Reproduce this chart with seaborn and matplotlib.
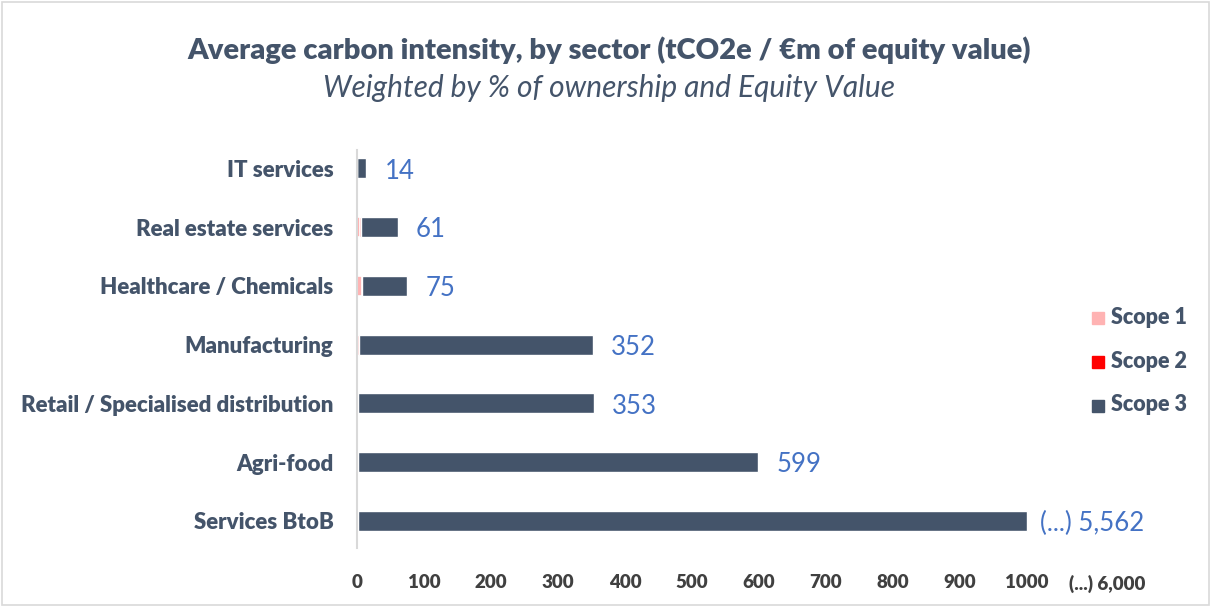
import numpy as np
import pandas as pd
import seaborn as sns
import matplotlib.pyplot as plt
from matplotlib.lines import Line2D
from matplotlib.patches import Rectangle

# data (tCO2e / €m of equity value)
sectors = ["IT services", "Real estate services", "Healthcare / Chemicals", "Manufacturing",
           "Retail / Specialised distribution", "Agri-food", "Services BtoB"]
scope1 = [0, 5, 7, 2, 1, 1, 1]
scope2 = [0, 0.3, 0.3, 0.3, 0.3, 0.3, 0.3]
totals = [14, 61, 75, 352, 353, 599, 5562]
axis_cap = 1000  # axis is broken after 1000
xticks = [0, 100, 200, 300, 400, 500, 600, 700, 800, 900, 1000, 1120]
xticklabels = ["0", "100", "200", "300", "400", "500", "600", "700", "800", "900", "1000", "(...) 6,000"]

dark = "#44546A"
pink = "#FFB3B3"
red = "#FF0000"
blue = "#4472C4"
txt = "#44546A"

sns.set_theme(style="white")
plt.rcParams["font.family"] = ["Lato", "DejaVu Sans"]

tot_disp = np.minimum(np.array(totals, dtype=float), axis_cap)
s12 = np.array(scope1) + np.array(scope2)

fig = plt.figure(figsize=(12.11, 6.07), dpi=100)
ax = fig.add_axes([357 / 1211, 1 - 548 / 607, 804 / 1211, 398 / 607])

df = pd.DataFrame({"sector": sectors, "total": tot_disp, "s12": s12, "s1": scope1})
# stacked bars drawn as overlays: total (scope 3 on top), scope 1+2, scope 1
sns.barplot(data=df, x="total", y="sector", orient="h", color=dark, saturation=1,
            width=0.34, ax=ax)
sns.barplot(data=df, x="s12", y="sector", orient="h", color=red, saturation=1,
            width=0.34, ax=ax)
sns.barplot(data=df, x="s1", y="sector", orient="h", color=pink, saturation=1,
            width=0.34, edgecolor="white", linewidth=1.2, ax=ax)

for i, (t, d) in enumerate(zip(totals, tot_disp)):
    lab = f"{t:,}" if t <= axis_cap else f"(...) {t:,}"
    ax.annotate(lab, xy=(d, i), xytext=(9 if t > axis_cap else 13, -2), textcoords="offset points",
                ha="left", va="center", color=blue, fontsize=18.5)

ax.set_xlim(0, 1200)
ax.set_ylim(6.46, -0.31)
ax.set_xticks(xticks)
ax.set_xticklabels(xticklabels, fontsize=13.5, fontweight="heavy", color="#404040")
ax.tick_params(axis="x", length=0, pad=19)
ax.tick_params(axis="y", length=0, pad=17)
for lab in ax.get_yticklabels():
    lab.set_fontsize(16)
    lab.set_fontweight("heavy")
    lab.set_color(txt)
ax.set_xlabel("")
ax.set_ylabel("")
for s in ["top", "right", "bottom"]:
    ax.spines[s].set_visible(False)
ax.spines["left"].set_color("#D9D9D9")
ax.spines["left"].set_linewidth(1.5)

handles = [Line2D([], [], marker="s", linestyle="", color=c, markersize=8) for c in [pink, red, dark]]
leg = fig.legend(handles, ["Scope 1", "Scope 2", "Scope 3"], loc="center left",
                 bbox_to_anchor=(1077 / 1211, 1 - 361 / 607), frameon=False,
                 handletextpad=0.3, labelspacing=1.5, handlelength=1)
for t in leg.get_texts():
    t.set_fontweight("heavy")
    t.set_color(txt)
    t.set_fontsize(15.5)

fig.text(0.503, 1 - 50 / 607, "Average carbon intensity, by sector (tCO2e / €m of equity value)",
         ha="center", va="center", fontsize=21, fontweight="heavy", color=txt)
fig.text(0.503, 1 - 88 / 607, "Weighted by % of ownership and Equity Value",
         ha="center", va="center", fontsize=21.5, style="italic", color=txt)

fig.patches.append(Rectangle((0.002, 0.003), 0.996, 0.994, transform=fig.transFigure,
                             fill=False, edgecolor="#D9D9D9", linewidth=1.2))

fig.savefig("out.png", dpi=100)
